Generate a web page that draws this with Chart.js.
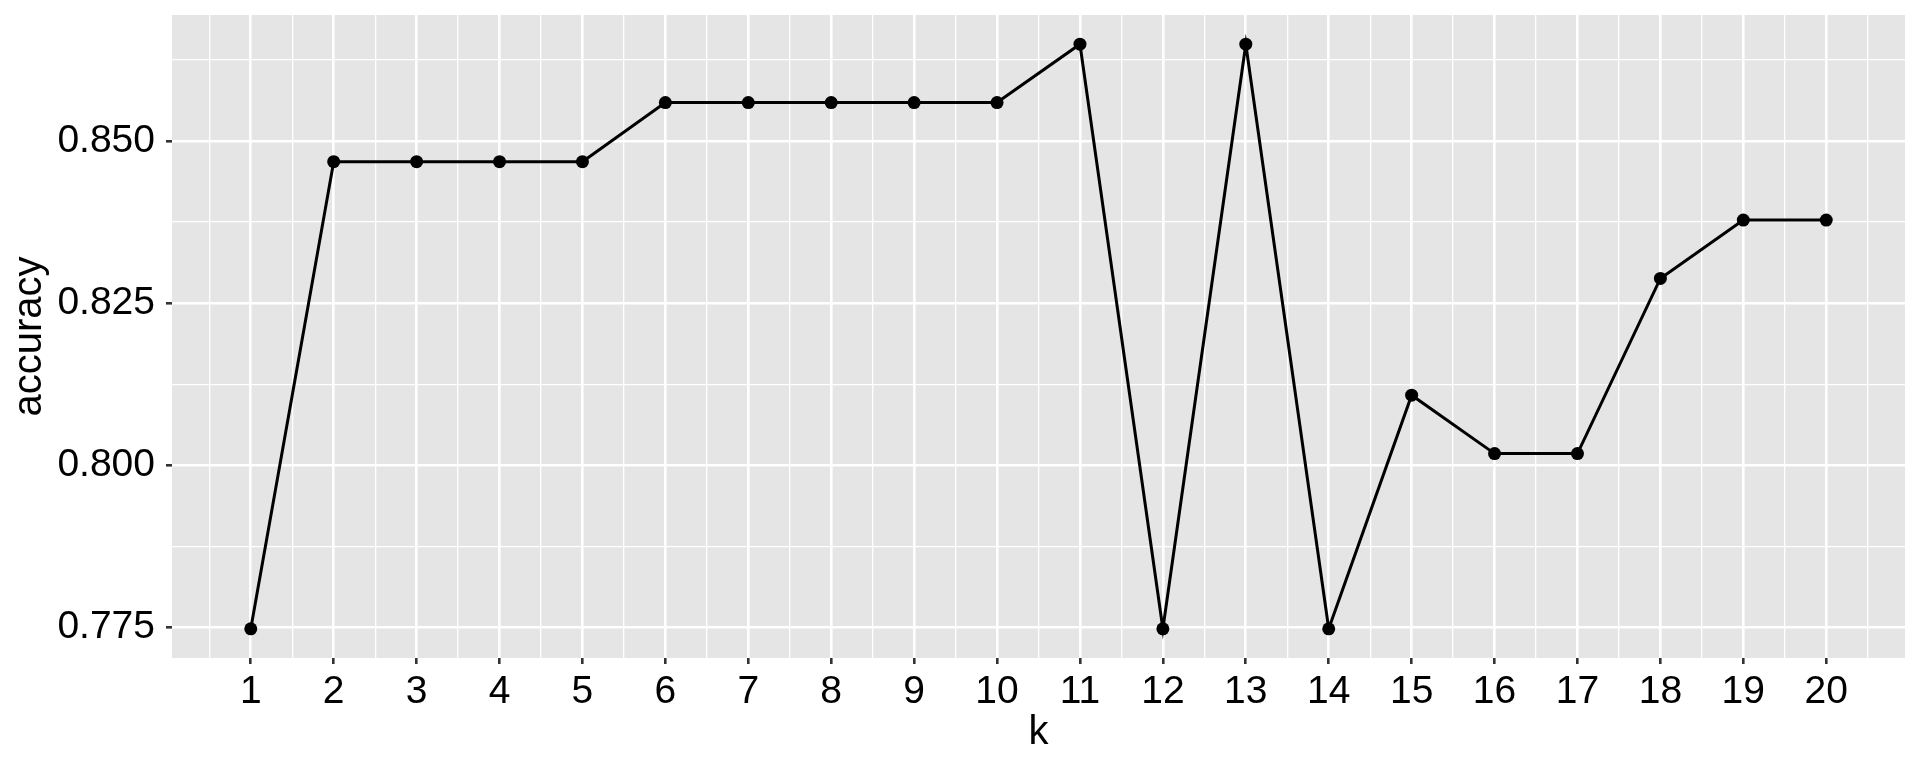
<!DOCTYPE html>
<html>
<head>
<meta charset="utf-8">
<title>accuracy by k</title>
<script src="https://cdn.jsdelivr.net/npm/chart.js@4.4.1/dist/chart.umd.min.js"></script>
<style>
  html, body { margin: 0; padding: 0; background: #ffffff; }
  canvas { display: block; }
</style>
</head>
<body>
<canvas id="accChart" width="1920" height="768"></canvas>
<script>
// data
const kValues = [1, 2, 3, 4, 5, 6, 7, 8, 9, 10, 11, 12, 13, 14, 15, 16, 17, 18, 19, 20];
const accuracy = [0.7748, 0.8468, 0.8468, 0.8468, 0.8468, 0.8559, 0.8559, 0.8559, 0.8559, 0.8559,
                  0.8649, 0.7748, 0.8649, 0.7748, 0.8108, 0.8018, 0.8018, 0.8288, 0.8378, 0.8378];

// axes (ggplot style: major + minor breaks)
const xMajor = [1, 2, 3, 4, 5, 6, 7, 8, 9, 10, 11, 12, 13, 14, 15, 16, 17, 18, 19, 20];
const xMinor = [0.5, 1.5, 2.5, 3.5, 4.5, 5.5, 6.5, 7.5, 8.5, 9.5, 10.5, 11.5, 12.5, 13.5, 14.5,
                15.5, 16.5, 17.5, 18.5, 19.5, 20.5];
const yMajor = [0.775, 0.800, 0.825, 0.850];
const yLabels = ["0.775", "0.800", "0.825", "0.850"];
const yMinor = [0.7875, 0.8125, 0.8375, 0.8625];
const xRange = [0.05, 20.95];
const yRange = [0.7703, 0.8694];

const FONT = "'Liberation Sans', Arial, Helvetica, sans-serif";
const PANEL_BG = "#E5E5E5";

function isMajor(list, v) {
  return list.findIndex((m) => Math.abs(m - v) < 1e-6);
}

function tickList(major, minor) {
  return major.concat(minor).sort((a, b) => a - b).map((v) => ({ value: v }));
}

const panelBackground = {
  id: "panelBackground",
  beforeDraw(chart) {
    const { ctx, chartArea } = chart;
    ctx.save();
    ctx.fillStyle = PANEL_BG;
    ctx.fillRect(chartArea.left, chartArea.top, chartArea.right - chartArea.left, chartArea.bottom - chartArea.top);
    ctx.restore();
  },
};

function gridOpts(major) {
  return {
    color: "#FFFFFF",
    lineWidth: (c) => (c.tick && isMajor(major, c.tick.value) >= 0 ? 2.6 : 1.3),
    drawTicks: true,
    tickLength: 6,
    tickWidth: 2.6,
    tickColor: (c) => (c.tick && isMajor(major, c.tick.value) >= 0 ? "#333333" : "rgba(0,0,0,0)"),
  };
}

const ctx = document.getElementById("accChart").getContext("2d");
new Chart(ctx, {
  type: "line",
  data: {
    datasets: [
      {
        data: kValues.map((k, i) => ({ x: k, y: accuracy[i] })),
        borderColor: "#000000",
        borderWidth: 3,
        backgroundColor: "#000000",
        pointRadius: 6.5,
        pointBorderWidth: 0,
        pointBackgroundColor: "#000000",
        tension: 0,
        fill: false,
      },
    ],
  },
  options: {
    responsive: false,
    animation: false,
    devicePixelRatio: 1,
    layout: { autoPadding: false, padding: { top: 15, right: 15, left: 0, bottom: 0 } },
    plugins: {
      legend: { display: false },
      title: { display: false },
      tooltip: { enabled: false },
    },
    scales: {
      x: {
        type: "linear",
        min: xRange[0],
        max: xRange[1],
        afterBuildTicks: (scale) => { scale.ticks = tickList(xMajor, xMinor); },
        afterFit: (scale) => {
          scale.height = 110;
          scale.paddingLeft = 0;
          scale.paddingRight = 0;
        },
        border: { display: false },
        grid: gridOpts(xMajor),
        ticks: {
          autoSkip: false,
          maxRotation: 0,
          padding: 5,
          color: "#000000",
          font: { family: FONT, size: 39 },
          callback: (v) => (isMajor(xMajor, v) >= 0 ? String(v) : ""),
        },
        title: {
          display: true,
          text: "k",
          color: "#000000",
          font: { family: FONT, size: 40 },
          padding: { top: 0, bottom: 11 },
        },
      },
      y: {
        type: "linear",
        min: yRange[0],
        max: yRange[1],
        afterBuildTicks: (scale) => { scale.ticks = tickList(yMajor, yMinor); },
        afterFit: (scale) => {
          scale.width = 172;
          scale.paddingTop = 0;
          scale.paddingBottom = 0;
        },
        border: { display: false },
        grid: gridOpts(yMajor),
        ticks: {
          autoSkip: false,
          padding: 11,
          color: "#000000",
          font: { family: FONT, size: 39 },
          callback: (v) => {
            const i = isMajor(yMajor, v);
            return i >= 0 ? yLabels[i] : "";
          },
        },
        title: {
          display: true,
          text: "accuracy",
          color: "#000000",
          font: { family: FONT, size: 40 },
          padding: { top: 6, bottom: 0 },
        },
      },
    },
  },
  plugins: [panelBackground],
});
</script>
</body>
</html>
